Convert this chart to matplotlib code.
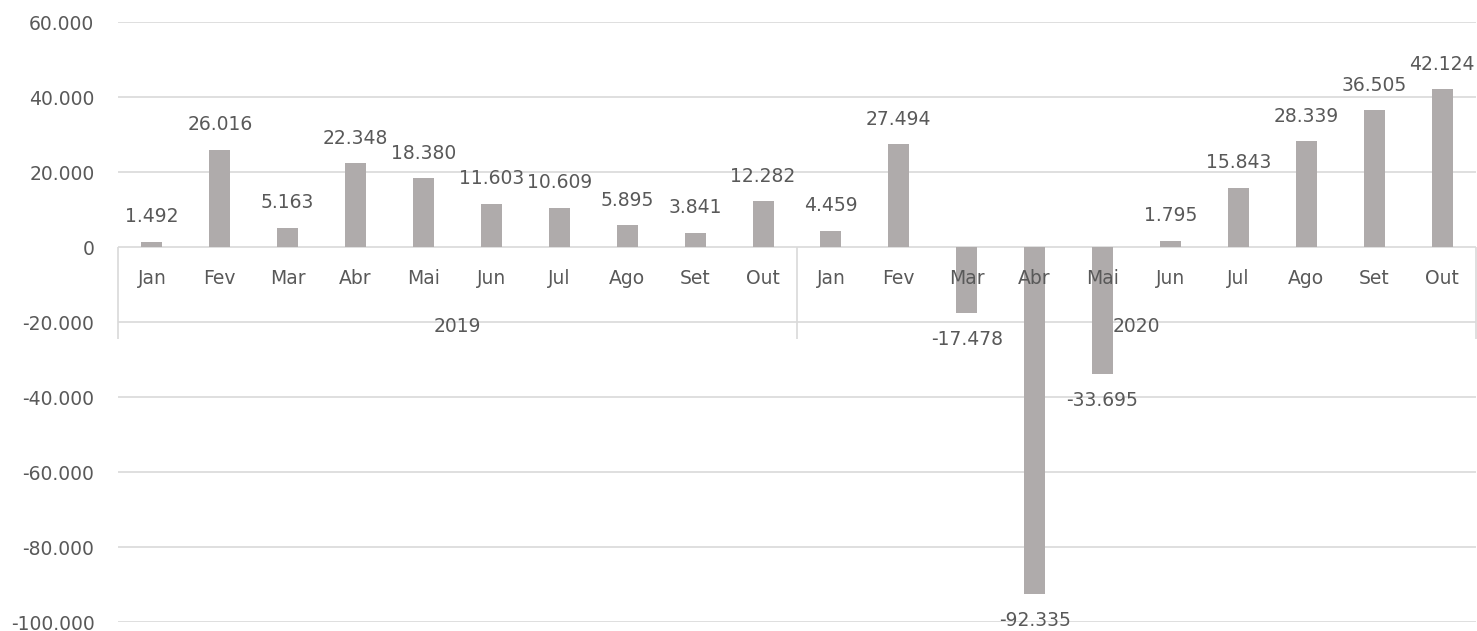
import matplotlib as mpl
import matplotlib.pyplot as plt
from matplotlib.ticker import FuncFormatter

mpl.use('Agg')

months = ['Jan', 'Fev', 'Mar', 'Abr', 'Mai', 'Jun', 'Jul', 'Ago', 'Set', 'Out']
years = ['2019', '2020']
saldo_2019 = [1492, 26016, 5163, 22348, 18380, 11603, 10609, 5895, 3841, 12282]
saldo_2020 = [4459, 27494, -17478, -92335, -33695, 1795, 15843, 28339, 36505, 42124]


def fmt_thousands(v):
    return f'{int(v):,}'.replace(',', '.')


def main():
    values = saldo_2019 + saldo_2020
    labels = months * len(years)
    x = list(range(len(values)))

    text_color = '#595959'
    grid_color = '#d9d9d9'
    fs = 13.5

    fig = plt.figure(figsize=(14.77, 6.31), dpi=100)
    ax = fig.add_axes([118 / 1477, 8.7 / 631, 1358 / 1477, 600 / 631])

    ax.bar(x, values, width=0.31, color='#afabab', zorder=3)

    ax.set_xlim(-0.5, len(values) - 0.5)
    ax.set_ylim(-100000, 60000)
    ax.set_yticks(range(-100000, 60001, 20000))
    ax.yaxis.set_major_formatter(FuncFormatter(lambda v, p: fmt_thousands(v)))
    ax.tick_params(axis='y', length=0, pad=17, labelsize=fs, labelcolor=text_color)
    ax.set_xticks([])
    ax.yaxis.grid(True, color=grid_color, linewidth=1.2)
    ax.set_axisbelow(True)
    for s in ax.spines.values():
        s.set_visible(False)

    # data labels, outside end
    for xi, v in zip(x, values):
        off = 18 if v >= 0 else -19.5
        ax.annotate(fmt_thousands(v), (xi, v), xytext=(0, off), textcoords='offset points',
                    ha='center', va='center', fontsize=fs, color=text_color, zorder=5)

    # multi-level category axis
    for xi, m in zip(x, labels):
        ax.text(xi, -8270, m, ha='center', va='center', fontsize=fs, color=text_color, zorder=4)
    n = len(months)
    for k, yr in enumerate(years):
        ax.text(k * n + (n - 1) / 2, -21000, yr, ha='center', va='center', fontsize=fs,
                color=text_color, zorder=2)
    ax.vlines([k * n - 0.5 for k in range(len(years) + 1)], -24500, 0, colors=grid_color,
              linewidth=1.2, clip_on=False, zorder=1)

    fig.savefig('out.png', dpi=100)


if __name__ == '__main__':
    main()
